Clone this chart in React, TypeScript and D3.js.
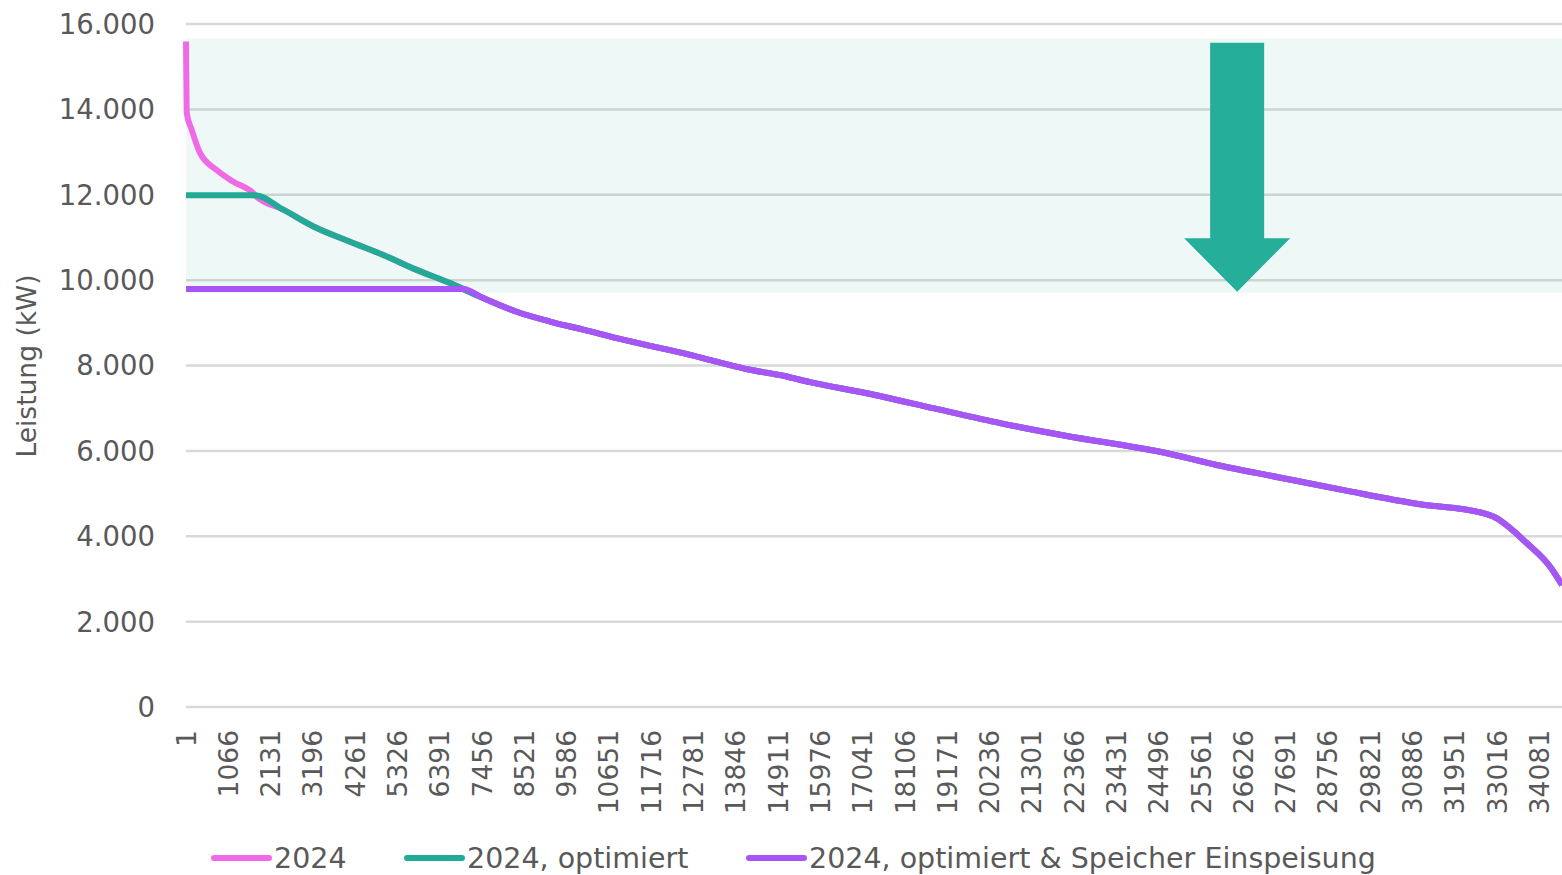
import React, { useEffect, useRef } from 'react';
import * as d3 from 'd3';

// load duration curve, 15-min values (index, kW)
const peak2024: [number, number][] = [
  [1, 15590], [18, 13920], [145, 13520], [354, 12980], [774, 12580], [1184, 12310], [1688, 12040], [1738, 11990],
];
const capOptimiert: [number, number][] = [[1, 11990], [1738, 11990]];
const curveOptimiert: [number, number][] = [
  [1738, 11990], [2451, 11650], [3292, 11220], [4131, 10900], [4969, 10590], [5810, 10240], [6649, 9930], [6943, 9810], [6984, 9790],
];
const capSpeicher: [number, number][] = [[1, 9790], [6984, 9790]];
const curveTail: [number, number][] = [
  [6984, 9790], [7487, 9580], [8328, 9260], [9167, 9030], [10005, 8840], [10846, 8640], [11685, 8460],
  [12523, 8290], [13364, 8090], [14203, 7900], [15041, 7760], [15713, 7610], [17141, 7350], [18818, 7000],
  [20498, 6650], [22177, 6350], [23855, 6090], [24526, 5980], [25954, 5670], [27631, 5360], [29311, 5050],
  [30990, 4760], [32667, 4540], [32919, 4460], [33760, 3840], [34346, 3290], [34650, 2860],
];

const series = [
  { name: '2024', color: '#F06AE6', points: [...peak2024, ...curveOptimiert.slice(1), ...curveTail.slice(1)] },
  { name: '2024, optimiert', color: '#22AA96', points: [...capOptimiert, ...curveOptimiert.slice(1), ...curveTail.slice(1)] },
  { name: '2024, optimiert & Speicher Einspeisung', color: '#A855F7', points: [...capSpeicher, ...curveTail.slice(1)] },
];

const xTickLabels = [
  1, 1066, 2131, 3196, 4261, 5326, 6391, 7456, 8521, 9586, 10651, 11716, 12781, 13846, 14911, 15976, 17041,
  18106, 19171, 20236, 21301, 22366, 23431, 24496, 25561, 26626, 27691, 28756, 29821, 30886, 31951, 33016, 34081,
];
const yTicks = [0, 2000, 4000, 6000, 8000, 10000, 12000, 14000, 16000];

// shaded target band and the arrow (in data units)
const band = { low: 9700, high: 15660 };
const arrow = { index: 26470, top: 15560, headBase: 10980, tip: 9730 };

const W = 1562;
const H = 875;
const FONT = '"DejaVu Sans", sans-serif';
const TEXT = '#595959';

const LoadChart = () => {
  const svgRef = useRef<SVGSVGElement>(null);

  useEffect(() => {
    const svg = d3.select(svgRef.current);
    svg.selectAll('*').remove();

    const x = d3.scaleLinear().domain([1, 34650]).range([186, 1562]);
    const y = d3.scaleLinear().domain([0, 16000]).range([707, 24]);
    const fmt = d3.formatLocale({ decimal: ',', thousands: '.', grouping: [3], currency: ['', '€'] }).format(',');

    // gridlines
    svg.append('g')
      .selectAll('line')
      .data(yTicks)
      .join('line')
      .attr('x1', x(1)).attr('x2', W)
      .attr('y1', d => y(d)).attr('y2', d => y(d))
      .attr('stroke', '#D9D9D9')
      .attr('stroke-width', 2.5);

    // y labels
    svg.append('g')
      .selectAll('text')
      .data(yTicks)
      .join('text')
      .attr('x', 155)
      .attr('y', d => y(d))
      .attr('dy', '0.36em')
      .attr('text-anchor', 'end')
      .attr('font-family', FONT)
      .attr('font-size', 27.5)
      .attr('fill', TEXT)
      .text(d => fmt(d));

    // y title
    svg.append('text')
      .attr('transform', `translate(36,${366}) rotate(-90)`)
      .attr('text-anchor', 'middle')
      .attr('font-family', FONT)
      .attr('font-size', 26.5)
      .attr('fill', TEXT)
      .text('Leistung (kW)');

    // x labels
    svg.append('g')
      .selectAll('text')
      .data(xTickLabels)
      .join('text')
      .attr('transform', d => `translate(${x(d)},730) rotate(-90)`)
      .attr('dy', '0.36em')
      .attr('text-anchor', 'end')
      .attr('font-family', FONT)
      .attr('font-size', 26.5)
      .attr('fill', TEXT)
      .text(d => d);

    // shaded band
    svg.append('rect')
      .attr('x', x(1))
      .attr('width', W - x(1))
      .attr('y', y(band.high))
      .attr('height', y(band.low) - y(band.high))
      .attr('fill', '#22AA96')
      .attr('fill-opacity', 0.08);

    // lines
    const line = d3.line<[number, number]>()
      .x(d => x(d[0]))
      .y(d => y(d[1]))
      .curve(d3.curveMonotoneX);

    svg.append('g')
      .selectAll('path')
      .data(series)
      .join('path')
      .attr('d', d => line(d.points))
      .attr('fill', 'none')
      .attr('stroke', d => d.color)
      .attr('stroke-width', 6)
      .attr('stroke-linejoin', 'round');

    // arrow
    const ax = x(arrow.index);
    const shaft = 27;
    const head = 53;
    const pts: [number, number][] = [
      [ax - shaft, y(arrow.top)], [ax + shaft, y(arrow.top)], [ax + shaft, y(arrow.headBase)],
      [ax + head, y(arrow.headBase)], [ax, y(arrow.tip)], [ax - head, y(arrow.headBase)],
      [ax - shaft, y(arrow.headBase)],
    ];
    svg.append('polygon')
      .attr('points', pts.map(p => p.join(',')).join(' '))
      .attr('fill', '#25AE9A');

    // legend
    const legendX = [212, 405, 747];
    const lg = svg.append('g')
      .selectAll('g')
      .data(series)
      .join('g')
      .attr('transform', (d, i) => `translate(${legendX[i]},858)`);
    lg.append('line')
      .attr('x1', 2).attr('x2', 57)
      .attr('stroke', d => d.color)
      .attr('stroke-width', 6)
      .attr('stroke-linecap', 'round');
    lg.append('text')
      .attr('x', 62)
      .attr('dy', '0.36em')
      .attr('font-family', FONT)
      .attr('font-size', 28.5)
      .attr('fill', TEXT)
      .text(d => d.name);
  }, []);

  return <svg ref={svgRef} width={W} height={H} style={{ position: 'absolute', left: 0, top: 0 }}></svg>;
};

const App = () => <LoadChart />;

export default App;
